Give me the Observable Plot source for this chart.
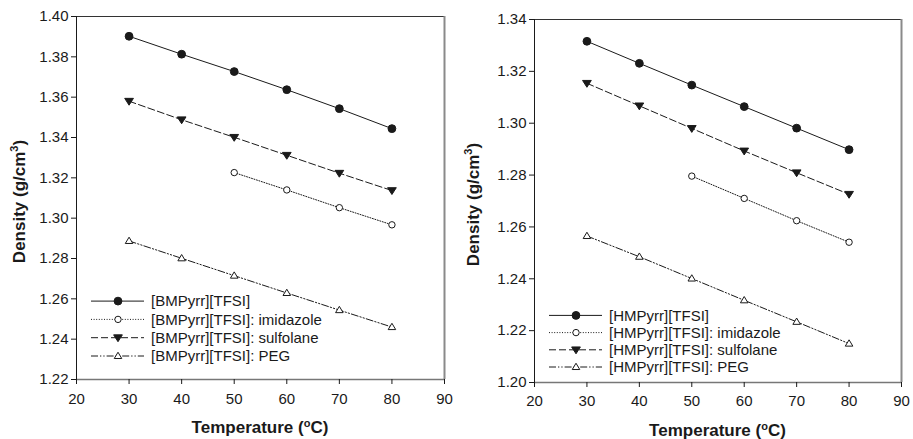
<!DOCTYPE html>
<html>
<head>
<meta charset="utf-8">
<script src="https://cdn.jsdelivr.net/npm/d3@7"></script>
<script src="https://cdn.jsdelivr.net/npm/@observablehq/plot@0.6"></script>
<style>
  html, body { margin: 0; padding: 0; background: #fff; }
  #wrap { display: flex; width: 913px; height: 439px; }
  svg { font-family: "Liberation Sans", Arial, sans-serif; }
</style>
</head>
<body>
<div id="wrap"></div>
<script>
// ---------- data ----------
const temperatures = [30, 40, 50, 60, 70, 80];
const imidTemps = [50, 60, 70, 80];

// Left panel: [BMPyrr][TFSI]
const bmpPure = [1.3902, 1.3813, 1.3727, 1.3637, 1.3543, 1.3444];
const bmpImid = [1.3226, 1.3140, 1.3052, 1.2967];
const bmpSulf = [1.3580, 1.3488, 1.3401, 1.3312, 1.3223, 1.3137];
const bmpPeg  = [1.2887, 1.2801, 1.2715, 1.2629, 1.2544, 1.2460];

// Right panel: [HMPyrr][TFSI]
const hmpPure = [1.3316, 1.3231, 1.3147, 1.3064, 1.2981, 1.2898];
const hmpImid = [1.2796, 1.2710, 1.2624, 1.2541];
const hmpSulf = [1.3154, 1.3067, 1.2980, 1.2893, 1.2809, 1.2726];
const hmpPeg  = [1.2565, 1.2485, 1.2401, 1.2317, 1.2234, 1.2150];

const bmpLabels = ["[BMPyrr][TFSI]", "[BMPyrr][TFSI]: imidazole", "[BMPyrr][TFSI]: sulfolane", "[BMPyrr][TFSI]: PEG"];
const hmpLabels = ["[HMPyrr][TFSI]", "[HMPyrr][TFSI]: imidazole", "[HMPyrr][TFSI]: sulfolane", "[HMPyrr][TFSI]: PEG"];

const xTicks = [20, 30, 40, 50, 60, 70, 80, 90];
const leftYTicks = [1.22, 1.24, 1.26, 1.28, 1.30, 1.32, 1.34, 1.36, 1.38, 1.40];
const rightYTicks = [1.20, 1.22, 1.24, 1.26, 1.28, 1.30, 1.32, 1.34];

// ---------- styles ----------
const INK = "#1a1a1a";
const triDown = {
  draw(ctx, size) {
    const r = Math.sqrt(size / Math.PI);
    ctx.moveTo(-1.15 * r, -0.75 * r);
    ctx.lineTo(1.15 * r, -0.75 * r);
    ctx.lineTo(0, 1.05 * r);
    ctx.closePath();
  }
};
const triUp = {
  draw(ctx, size) {
    const r = Math.sqrt(size / Math.PI);
    ctx.moveTo(-1.05 * r, 0.7 * r);
    ctx.lineTo(1.05 * r, 0.7 * r);
    ctx.lineTo(0, -1.05 * r);
    ctx.closePath();
  }
};
const seriesStyles = [
  {symbol: "circle", fill: INK, r: 3.9, dash: null},
  {symbol: "circle", fill: "white", r: 3.2, dash: "1,1.6"},
  {symbol: triDown, fill: INK, r: 3.8, dash: "7,3"},
  {symbol: triUp, fill: "white", r: 3.6, dash: "7,2,1.3,2,1.3,2"}
];

function rows(xs, ys) { return xs.map((x, i) => ({x, y: ys[i]})); }

function panel(cfg) {
  const series = [
    rows(temperatures, cfg.pure),
    rows(imidTemps, cfg.imid),
    rows(temperatures, cfg.sulf),
    rows(temperatures, cfg.peg)
  ];
  const marks = [];
  const [x0, x1] = [xTicks[0], xTicks[xTicks.length - 1]];
  const [y0, y1] = [cfg.yTicks[0], cfg.yTicks[cfg.yTicks.length - 1]];
  // frame sides
  marks.push(Plot.ruleY([y1], {stroke: "#333", strokeWidth: 1}));
  marks.push(Plot.ruleX([x1], {stroke: "#8a8a8a", strokeWidth: 2}));
  marks.push(Plot.ruleY([y0], {stroke: "#777", strokeWidth: 1.5}));
  marks.push(Plot.ruleX([x0], {stroke: INK, strokeWidth: 1}));
  marks.push(Plot.axisX({ticks: xTicks, tickSize: 5, tickPadding: cfg.xPad, fontSize: 15, tickFormat: d3.format("d"), label: null, stroke: INK, fill: INK}));
  marks.push(Plot.axisY({ticks: cfg.yTicks, tickSize: 5, tickPadding: 3, fontSize: 15, tickFormat: d3.format(".2f"), label: null, stroke: INK, fill: INK}));
  series.forEach((d, i) => {
    const st = seriesStyles[i];
    marks.push(Plot.line(d, {x: "x", y: "y", stroke: INK, strokeWidth: 1, strokeDasharray: st.dash}));
  });
  series.forEach((d, i) => {
    const st = seriesStyles[i];
    marks.push(Plot.dot(d, {x: "x", y: "y", r: st.r, symbol: st.symbol, fill: st.fill, stroke: INK, strokeWidth: 1}));
  });
  const svg = Plot.plot({
    width: cfg.width,
    height: 439,
    marginLeft: cfg.ml, marginRight: cfg.mr, marginTop: cfg.mt, marginBottom: cfg.mb,
    style: {fontFamily: '"Liberation Sans", Arial, sans-serif', fontSize: "15px", color: INK, background: "white", overflow: "visible"},
    x: {domain: [x0, x1]},
    y: {domain: [y0, y1]},
    marks
  });

  const sel = d3.select(svg);
  const W = cfg.width, H = 439;
  const fx0 = cfg.ml, fx1 = W - cfg.mr, fy0 = cfg.mt, fy1 = H - cfg.mb;

  // axis titles
  const xt = sel.append("text")
    .attr("x", (fx0 + fx1) / 2).attr("y", cfg.xTitleY)
    .attr("text-anchor", "middle").attr("font-weight", "bold").attr("font-size", 17).attr("fill", INK);
  xt.append("tspan").text("Temperature (");
  xt.append("tspan").attr("font-size", 11).attr("dy", -6).text("o");
  xt.append("tspan").attr("dy", 6).text("C)");

  const yt = sel.append("text")
    .attr("transform", `translate(${cfg.yTitleX},${(fy0 + fy1) / 2 + 4}) rotate(-90)`)
    .attr("text-anchor", "middle").attr("font-weight", "bold").attr("font-size", 17).attr("fill", INK);
  yt.append("tspan").text("Density (g/cm");
  yt.append("tspan").attr("font-size", 11).attr("dy", -7).text("3");
  yt.append("tspan").attr("dy", 7).text(")");

  // legend
  const lg = sel.append("g").attr("text-anchor", "start");
  const lx0 = fx0 + 15, lx1 = lx0 + 53, lsx = lx0 + 27, ltx = lx1 + 7;
  cfg.labels.forEach((lab, i) => {
    const st = seriesStyles[i];
    const yy = fy1 - cfg.legBottom - (3 - i) * cfg.legGap;
    lg.append("line").attr("x1", lx0).attr("x2", lx1).attr("y1", yy).attr("y2", yy)
      .attr("stroke", INK).attr("stroke-width", 1).attr("stroke-dasharray", st.dash);
    const size = Math.PI * st.r * st.r;
    const sym = typeof st.symbol === "string" ? d3.symbolCircle : st.symbol;
    lg.append("path").attr("d", d3.symbol(sym, size)()).attr("transform", `translate(${lsx},${yy})`)
      .attr("fill", st.fill).attr("stroke", INK).attr("stroke-width", 1);
    lg.append("text").attr("x", ltx).attr("y", yy).attr("dy", "0.35em")
      .attr("text-anchor", "start").attr("font-size", 15).attr("fill", INK).text(lab);
  });
  return svg;
}

const wrap = document.getElementById("wrap");
wrap.appendChild(panel({
  width: 453, ml: 76, mr: 9, mt: 16, mb: 60,
  pure: bmpPure, imid: bmpImid, sulf: bmpSulf, peg: bmpPeg,
  yTicks: leftYTicks, labels: bmpLabels, xPad: 9,
  xTitleY: 433, yTitleX: 25, legBottom: 23, legGap: 18.3
}));
wrap.appendChild(panel({
  width: 460, ml: 81, mr: 12, mt: 19, mb: 57,
  pure: hmpPure, imid: hmpImid, sulf: hmpSulf, peg: hmpPeg,
  yTicks: rightYTicks, labels: hmpLabels, xPad: 8,
  xTitleY: 436, yTitleX: 26, legBottom: 15, legGap: 17.2
}));
</script>
</body>
</html>
